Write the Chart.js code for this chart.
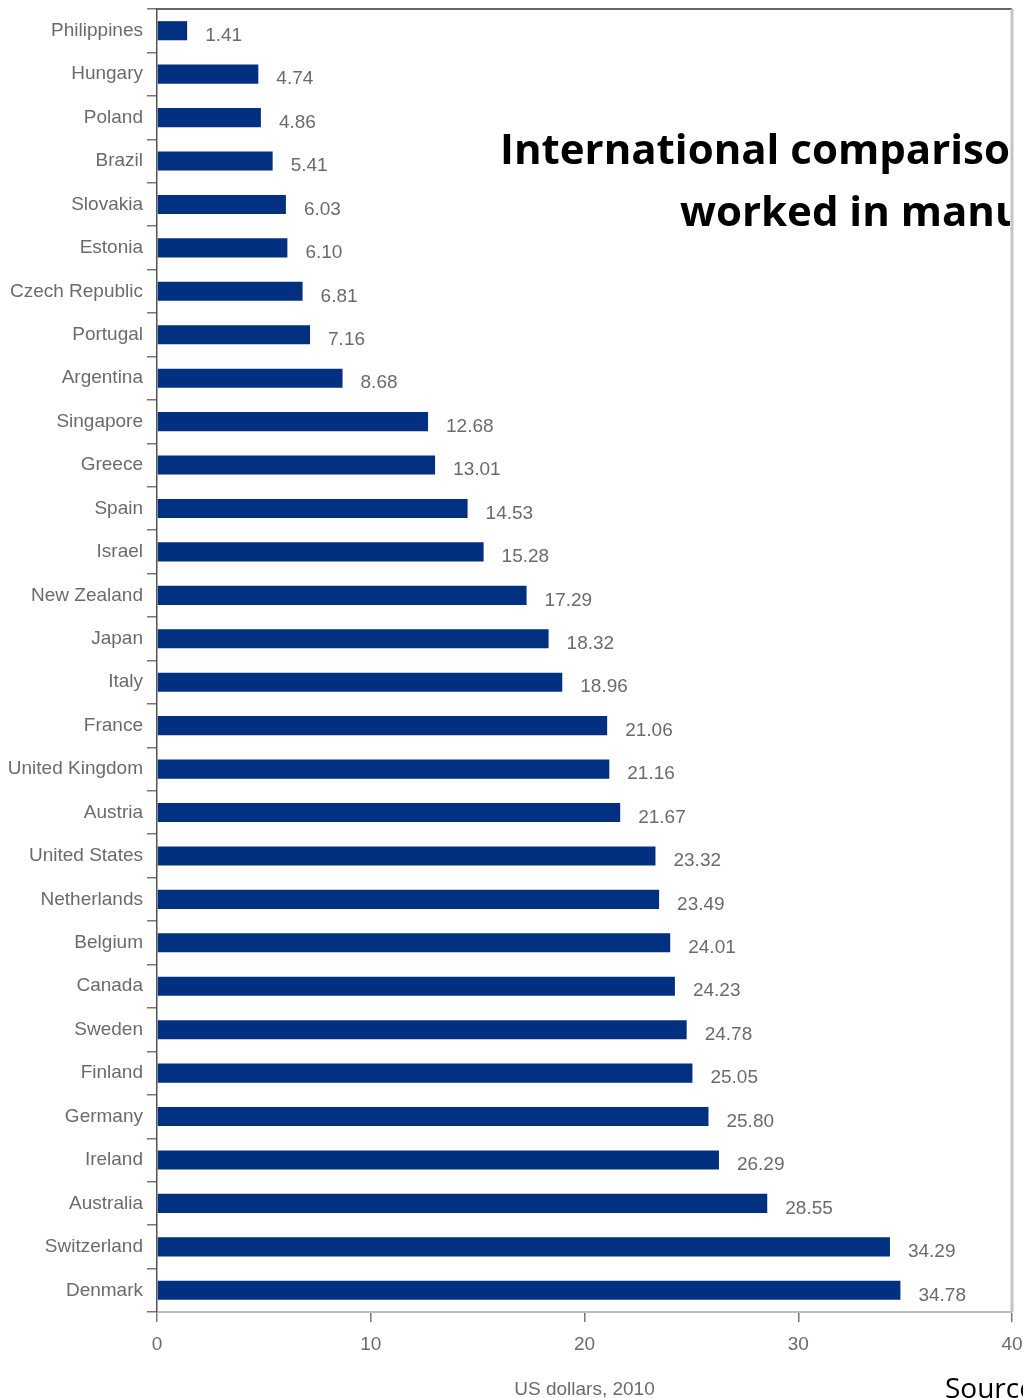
<!DOCTYPE html>
<html>
<head>
<meta charset="utf-8">
<script src="https://cdn.jsdelivr.net/npm/chart.js@4.4.1/dist/chart.umd.min.js"></script>
<style>
  html, body { margin: 0; padding: 0; background: #fff; overflow: hidden; }
  .page { position: relative; width: 1023px; height: 1398px; overflow: hidden; }
  canvas { position: absolute; left: 0; top: 0; }
  .title-clip { position: absolute; left: 0; top: 0; width: 1010px; height: 260px; overflow: hidden; }
  .title-line { position: absolute; white-space: nowrap; font-family: 'Open Sans', sans-serif; font-weight: 700; font-size: 42px; line-height: 42px; color: #000; }
  .source { position: absolute; left: 945px; top: 1373px; white-space: nowrap; font-family: 'Open Sans', sans-serif; font-size: 28px; line-height: 28px; color: #000; }
</style>
</head>
<body>
<div class="page">
  <canvas id="chart" width="1023" height="1398"></canvas>
  <div class="title-clip">
    <div class="title-line" style="left:500px; top:127px;">International comparison</div>
    <div class="title-line" style="left:680px; top:189px;">worked in manufacturing</div>
  </div>
  <div class="source">Source</div>
</div>
<script>
const countries = [
  'Philippines', 'Hungary', 'Poland', 'Brazil', 'Slovakia', 'Estonia',
  'Czech Republic', 'Portugal', 'Argentina', 'Singapore', 'Greece', 'Spain',
  'Israel', 'New Zealand', 'Japan', 'Italy', 'France', 'United Kingdom',
  'Austria', 'United States', 'Netherlands', 'Belgium', 'Canada', 'Sweden',
  'Finland', 'Germany', 'Ireland', 'Australia', 'Switzerland', 'Denmark'
];
const costs = [
  1.41, 4.74, 4.86, 5.41, 6.03, 6.10,
  6.81, 7.16, 8.68, 12.68, 13.01, 14.53,
  15.28, 17.29, 18.32, 18.96, 21.06, 21.16,
  21.67, 23.32, 23.49, 24.01, 24.23, 24.78,
  25.05, 25.80, 26.29, 28.55, 34.29, 34.78
];
const xTicks = [0, 10, 20, 30, 40];
const xTitle = 'US dollars, 2010';

const textColor = '#6b6b6b';
const axisFont = { family: "'Liberation Sans', Arial, sans-serif", size: 19 };

// value labels right of each bar
const valueLabels = {
  id: 'valueLabels',
  afterDatasetsDraw(chart) {
    const ctx = chart.ctx;
    const meta = chart.getDatasetMeta(0);
    ctx.save();
    ctx.font = '19px ' + axisFont.family;
    ctx.fillStyle = textColor;
    ctx.textAlign = 'left';
    ctx.textBaseline = 'middle';
    meta.data.forEach((bar, i) => {
      ctx.fillText(costs[i].toFixed(2), bar.x + 18, bar.y + 5);
    });
    ctx.restore();
  }
};

// top and right frame lines of the plot area
const frame = {
  id: 'frame',
  afterDraw(chart) {
    const { ctx, chartArea: a } = chart;
    ctx.save();
    ctx.strokeStyle = '#666';
    ctx.lineWidth = 2;
    ctx.beginPath();
    ctx.moveTo(a.left, a.top);
    ctx.lineTo(a.right, a.top);
    ctx.stroke();
    ctx.strokeStyle = '#c4c4c4';
    ctx.lineWidth = 3;
    ctx.beginPath();
    ctx.moveTo(a.right, a.top);
    ctx.lineTo(a.right, a.bottom);
    ctx.stroke();
    ctx.restore();
  }
};

new Chart(document.getElementById('chart'), {
  type: 'bar',
  data: {
    labels: countries,
    datasets: [{
      data: costs,
      backgroundColor: '#00307f',
      borderWidth: 0,
      barPercentage: 0.44,
      categoryPercentage: 1.0
    }]
  },
  options: {
    indexAxis: 'y',
    responsive: false,
    animation: false,
    layout: { padding: { top: 9, right: 11, bottom: 0, left: 0 } },
    plugins: {
      legend: { display: false },
      tooltip: { enabled: false }
    },
    scales: {
      x: {
        min: 0,
        max: 40,
        afterBuildTicks: (scale) => { scale.ticks = xTicks.map(v => ({ value: v })); },
        afterFit: (scale) => {
          scale.height = 86;
          scale.paddingLeft = 0;
          scale.paddingRight = 0;
        },
        grid: { drawOnChartArea: false, drawTicks: true, tickLength: 10, color: '#777', lineWidth: 1.5 },
        border: { color: '#bdbdbd', width: 2 },
        ticks: { color: textColor, font: axisFont, padding: 11 },
        title: { display: true, text: xTitle, color: textColor, font: axisFont, padding: { top: 0, bottom: -3 } }
      },
      y: {
        afterFit: (scale) => {
          scale.width = 157;
          scale.paddingTop = 0;
          scale.paddingBottom = 0;
        },
        grid: { offset: true, drawOnChartArea: false, drawTicks: true, tickLength: 10, color: '#777', lineWidth: 1.5 },
        border: { color: '#555', width: 1.5 },
        ticks: { color: textColor, font: axisFont, padding: 4, autoSkip: false }
      }
    }
  },
  plugins: [valueLabels, frame]
});
</script>
</body>
</html>
